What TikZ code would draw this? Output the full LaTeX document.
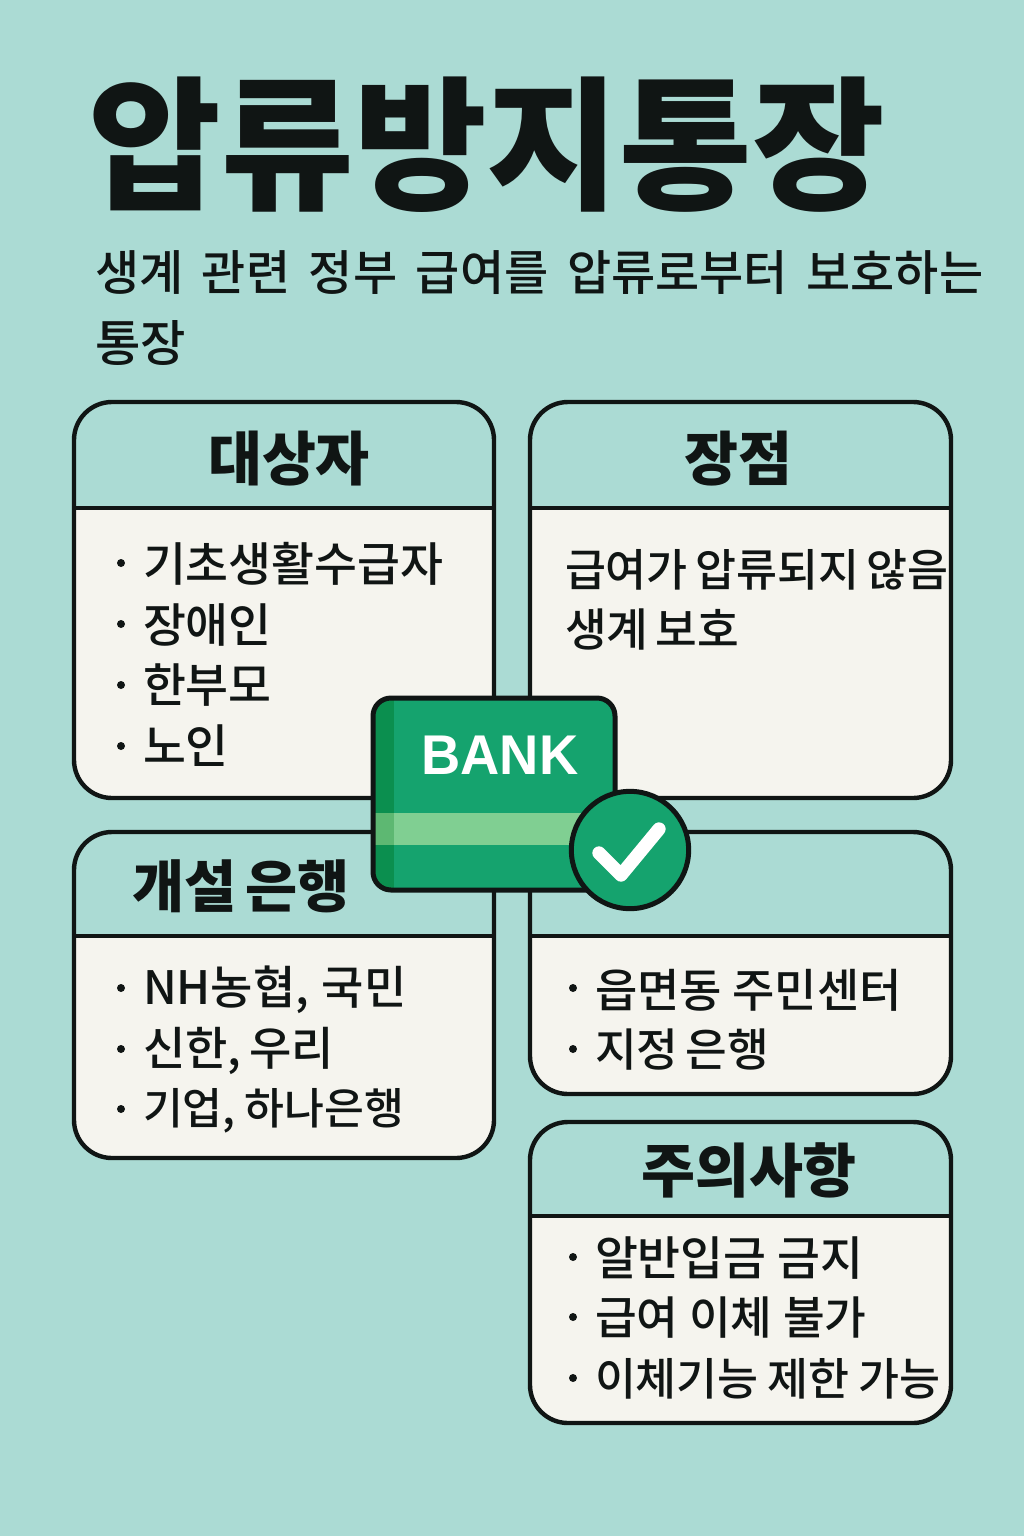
\documentclass[tikz,border=0pt]{standalone}
\usepackage{fontspec}
\setmainfont{Liberation Sans}
\newfontfamily\krfont{Noto Sans CJK KR Medium}
\newfontfamily\krbold{Noto Sans CJK KR}
\newfontfamily\krblack{Noto Sans CJK KR Black}
\definecolor{bgc}{HTML}{ABDBD4}
\definecolor{bodyc}{HTML}{F5F4EE}
\definecolor{inkc}{HTML}{101514}
\definecolor{bankc}{HTML}{15A36E}
\definecolor{spinec}{HTML}{0B8F4F}
\definecolor{stripec}{HTML}{80CF92}
\definecolor{stripedc}{HTML}{5DB872}
\newcommand{\kr}[1]{\fontsize{#1}{#1}\selectfont}
\newcommand{\setsp}[1]{\spaceskip #1\relax}
\newcommand{\mycard}[5]{%
  \begin{scope}
    \clip[rounded corners=28.5pt] (#1,#2) rectangle (#3,#4);
    \fill[bodyc] (#1,#5) rectangle (#3,#4);
  \end{scope}
  \draw[cardline,rounded corners=28.5pt] (#1,#2) rectangle (#3,#4);
  \draw[cardline] (#1,#5) -- (#3,#5);
}
\tikzset{
  cardline/.style={draw=inkc,line width=3.3pt},
  txt/.style={inner sep=0pt,outer sep=0pt,text=inkc,anchor=west,font=\krfont\kr{35pt}},
  tight/.style 2 args={txt,font=\krfont\kr{#1}\setsp{#2}},
  dotmark/.style={circle,fill=inkc,inner sep=0pt,outer sep=0pt,minimum size=6pt},
  head/.style={inner sep=0pt,outer sep=0pt,text=inkc,font=\krbold\bfseries\kr{44pt}},
  sub/.style={inner sep=0pt,outer sep=0pt,text=inkc,anchor=west,font=\krfont\kr{36pt}\setsp{14pt}}
}
\begin{document}
\begin{tikzpicture}[x=0.75pt,y=-0.75pt]
\useasboundingbox (0,0) rectangle (1024,1536);
\fill[bgc] (0,0) rectangle (1024,1536);
% title
\node[inner sep=0pt,text=inkc,font=\krblack\kr{108.2pt}] (title) at (487,145) {압류방지통장};
\node[sub] (sub1) at (95,273) {생계 관련 정부 급여를 압류로부터 보호하는};
\node[sub,font=\krfont\kr{37pt}] (sub2) at (95,343) {통장};
% cards
\mycard{74}{402}{494}{798}{508}
\mycard{530}{402}{951}{798}{508}
\mycard{74}{832}{494}{1158}{936}
\mycard{530}{832}{951}{1094}{936}
\mycard{530}{1122}{951}{1423}{1216}
% card 1
\node[head] (h1) at (289,459) {대상자};
\node[dotmark] (d11) at (121,563) {};
\node[txt] (t11) at (143,564) {기초생활수급자};
\node[dotmark] (d12) at (121,624) {};
\node[txt] (t12) at (143,625) {장애인};
\node[dotmark] (d13) at (121,685) {};
\node[txt] (t13) at (143,685) {한부모};
\node[dotmark] (d14) at (121,746) {};
\node[txt] (t14) at (143,746) {노인};
% card 2
\node[head] (h2) at (738,459) {장점};
\node[tight={33.4pt}{5.5pt}] (t21) at (565,570) {급여가 압류되지 않음};
\node[tight={34pt}{5.5pt}] (t22) at (565,629) {생계 보호};
% card 3
\node[head,font=\krbold\bfseries\kr{42.5pt}\setsp{7pt}] (h3) at (241,886) {개설 은행};
\node[dotmark] (d31) at (121,988) {};
\node[tight={34.5pt}{9.5pt}] (t31) at (143,990) {NH농협, 국민};
\node[dotmark] (d32) at (121,1049) {};
\node[tight={34.5pt}{6pt}] (t32) at (143,1051) {신한, 우리};
\node[dotmark] (d33) at (121,1109) {};
\node[tight={32.5pt}{7pt}] (t33) at (143,1111) {기업, 하나은행};
% card 4
\node[dotmark] (d41) at (573,988) {};
\node[tight={34.5pt}{8pt}] (t41) at (595,990) {읍면동 주민센터};
\node[dotmark] (d42) at (573,1049) {};
\node[tight={34pt}{5.5pt}] (t42) at (595,1050) {지정 은행};
% card 5
\node[head] (h5) at (749,1170) {주의사항};
\node[dotmark] (d51) at (573,1257) {};
\node[txt] (t51) at (595,1258) {알반입금 금지};
\node[dotmark] (d52) at (573,1317) {};
\node[tight={34pt}{8pt}] (t52) at (595,1318) {급여 이체 불가};
\node[dotmark] (d53) at (573,1378) {};
\node[tight={33.4pt}{6.5pt}] (t53) at (595,1379) {이체기능 제한 가능};
% bankbook
\begin{scope}
  \clip[rounded corners=13.5pt] (373,698) rectangle (615,890);
  \fill[bankc] (373,698) rectangle (615,890);
  \fill[spinec] (373,698) rectangle (394,890);
  \fill[stripec] (373,813) rectangle (615,845);
  \fill[stripedc] (373,813) rectangle (394,845);
\end{scope}
\draw[draw=inkc,line width=3.75pt,rounded corners=13.5pt] (373,698) rectangle (615,890);
\node[inner sep=0pt,text=white,font=\rmfamily\bfseries\fontsize{42pt}{42pt}\selectfont] (bank) at (500,755) {\scalebox{0.97}[1]{BANK}};
\node[circle,draw=inkc,line width=3.75pt,fill=bankc,minimum size=88pt,inner sep=0pt] (badge) at (630,850) {};
\draw[white,line width=10pt,line cap=round,line join=round] (599,853) -- (621,875) -- (659,829);
\end{tikzpicture}
\end{document}
